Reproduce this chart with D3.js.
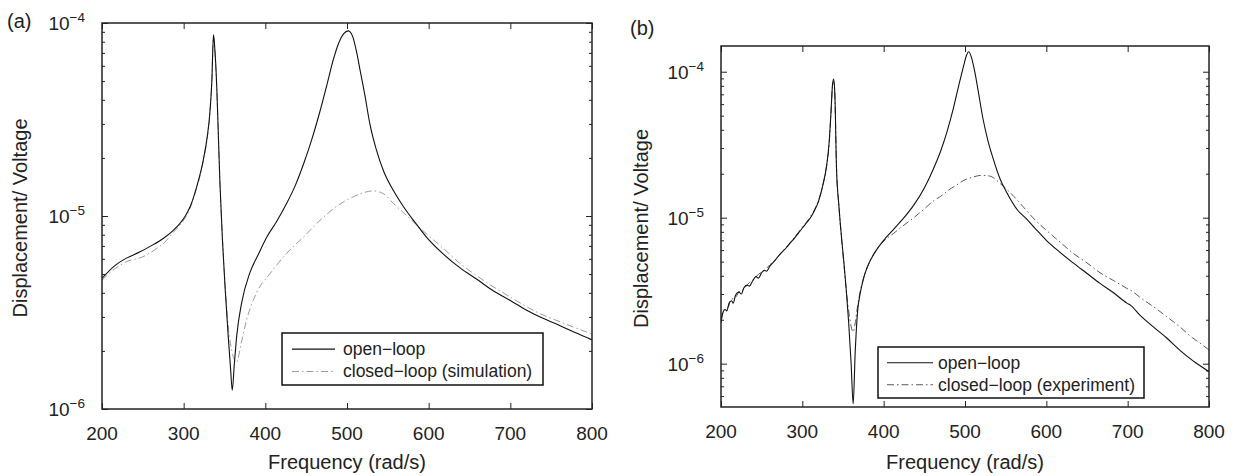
<!DOCTYPE html>
<html>
<head>
<meta charset="utf-8">
<script src="https://cdn.jsdelivr.net/npm/d3@7"></script>
<style>
  body { margin: 0; background: #fff; }
  svg { font-family: "Liberation Sans", Arial, Helvetica, sans-serif; }
</style>
</head>
<body>
<svg id="chart" width="1237" height="476"></svg>
<script>
// Panel (a): simulation
const freqOpenA = [200, 215, 230, 246, 260, 275, 287, 295, 302, 308, 316, 324, 329, 332, 334.5, 336.5, 338, 340.5, 342.5, 344.5, 347.5, 350.5, 354.5, 357.5, 359.5, 362, 365, 371, 381, 392, 402, 414, 426, 437, 447, 457, 467, 476, 483, 490, 496, 501.5, 507, 512, 516, 522, 528, 536, 545, 557, 569, 583, 597, 617, 638, 659, 679, 700, 720, 740, 761, 780, 800]
const magOpenA = [4.75e-6, 5.5e-6, 6.05e-6, 6.5e-6, 7.0e-6, 7.65e-6, 8.4e-6, 9.1e-6, 1.0e-5, 1.12e-5, 1.42e-5, 1.95e-5, 2.6e-5, 3.4e-5, 5.0e-5, 8.7e-5, 7.5e-5, 4.7e-5, 2.6e-5, 1.45e-5, 7.5e-6, 4.4e-6, 2.4e-6, 1.6e-6, 1.25e-6, 1.7e-6, 2.4e-6, 3.55e-6, 5.07e-6, 6.4e-6, 7.8e-6, 9.4e-6, 1.16e-5, 1.45e-5, 1.87e-5, 2.5e-5, 3.5e-5, 4.9e-5, 6.4e-5, 7.9e-5, 8.8e-5, 9.1e-5, 8.5e-5, 7.0e-5, 5.7e-5, 4.2e-5, 3.0e-5, 2.2e-5, 1.7e-5, 1.35e-5, 1.12e-5, 9.3e-6, 7.8e-6, 6.4e-6, 5.4e-6, 4.7e-6, 4.1e-6, 3.65e-6, 3.25e-6, 2.95e-6, 2.7e-6, 2.48e-6, 2.28e-6]
const freqClosedA = [200, 215, 230, 250, 265, 278, 287, 295, 302, 308, 316, 324, 329, 332, 334.5, 336.5, 338, 340.5, 342.5, 344.5, 347.5, 350.5, 354.5, 358, 361, 365, 370, 377, 389, 406, 426, 447, 467, 487, 508, 520, 532, 545, 557, 577, 597, 618, 638, 659, 679, 700, 720, 740, 761, 780, 800]
const magClosedA = [4.65e-6, 5.3e-6, 5.8e-6, 6.15e-6, 6.7e-6, 7.4e-6, 8.2e-6, 8.9e-6, 9.8e-6, 1.1e-5, 1.4e-5, 1.92e-5, 2.55e-5, 3.3e-5, 4.9e-5, 8.5e-5, 7.3e-5, 4.6e-5, 2.6e-5, 1.45e-5, 7.7e-6, 4.6e-6, 2.7e-6, 2.1e-6, 1.85e-6, 1.75e-6, 2.15e-6, 2.89e-6, 3.98e-6, 5.04e-6, 6.4e-6, 7.8e-6, 9.5e-6, 1.12e-5, 1.26e-5, 1.32e-5, 1.35e-5, 1.3e-5, 1.16e-5, 9.7e-6, 8.1e-6, 6.8e-6, 5.69e-6, 4.9e-6, 4.3e-6, 3.8e-6, 3.39e-6, 3.07e-6, 2.83e-6, 2.63e-6, 2.45e-6]

// Panel (b): experiment
const freqOpenB = [200, 202, 205, 207, 210, 213, 215, 218, 222, 225, 228, 232, 235, 239, 243, 246, 250, 253, 256, 260, 265, 270, 275, 280, 285, 290, 295, 300, 305, 310, 315, 320, 325, 330, 333, 335, 337, 338.5, 340, 342, 345, 348, 351, 354, 357, 360, 362.5, 365, 368, 371, 375, 380, 391, 400, 412, 425, 437, 450, 461, 470, 478, 486, 492, 498, 502, 504.5, 508, 512, 516, 522, 528, 535, 543, 551, 565, 575, 585, 600, 615, 633, 650, 666, 683, 699, 704, 715, 732, 748, 764, 780, 790, 800]
const magOpenB = [1.9e-6, 2.2e-6, 2.35e-6, 2.3e-6, 2.6e-6, 2.7e-6, 2.6e-6, 2.95e-6, 3.1e-6, 3.0e-6, 3.3e-6, 3.45e-6, 3.4e-6, 3.7e-6, 3.95e-6, 3.85e-6, 4.2e-6, 4.35e-6, 4.3e-6, 4.65e-6, 5.0e-6, 5.4e-6, 5.8e-6, 6.2e-6, 6.7e-6, 7.2e-6, 7.8e-6, 8.5e-6, 9.2e-6, 1.0e-5, 1.12e-5, 1.3e-5, 1.65e-5, 2.3e-5, 3.3e-5, 5.0e-5, 8.0e-5, 8.9e-5, 7.0e-5, 2.2e-5, 1.2e-5, 7.5e-6, 5.0e-6, 3.2e-6, 1.9e-6, 1.0e-6, 5.3e-7, 1.2e-6, 2.3e-6, 3.0e-6, 3.8e-6, 4.6e-6, 6.0e-6, 7.0e-6, 8.3e-6, 1.0e-5, 1.22e-5, 1.6e-5, 2.15e-5, 2.85e-5, 3.9e-5, 5.7e-5, 7.9e-5, 1.08e-4, 1.3e-4, 1.37e-4, 1.25e-4, 1.0e-4, 7.5e-5, 4.8e-5, 3.4e-5, 2.5e-5, 1.85e-5, 1.5e-5, 1.12e-5, 9.9e-6, 8.6e-6, 7.0e-6, 5.9e-6, 4.9e-6, 4.15e-6, 3.55e-6, 3.05e-6, 2.6e-6, 2.5e-6, 2.15e-6, 1.78e-6, 1.5e-6, 1.24e-6, 1.05e-6, 9.6e-7, 8.8e-7]
const freqClosedB = [200, 203, 206, 209, 212, 216, 219, 223, 227, 231, 235, 240, 244, 249, 254, 260, 266, 272, 280, 290, 300, 310, 320, 325, 330, 333, 335, 337, 338.5, 340, 342, 345, 348, 351, 354, 357, 360, 362.5, 365, 368, 371, 375, 380, 391, 400, 412, 425, 437, 450, 461, 470, 480, 490, 500, 510, 520, 528, 535, 543, 551, 560, 572, 585, 600, 617, 633, 650, 666, 683, 699, 705, 715, 732, 748, 764, 780, 790, 800]
const magClosedB = [2.0e-6, 2.3e-6, 2.4e-6, 2.45e-6, 2.75e-6, 2.8e-6, 2.9e-6, 3.15e-6, 3.2e-6, 3.4e-6, 3.6e-6, 3.75e-6, 4.0e-6, 4.2e-6, 4.4e-6, 4.75e-6, 5.1e-6, 5.6e-6, 6.25e-6, 7.3e-6, 8.6e-6, 1.02e-5, 1.32e-5, 1.65e-5, 2.3e-5, 3.2e-5, 4.9e-5, 7.8e-5, 8.6e-5, 6.8e-5, 2.2e-5, 1.2e-5, 7.4e-6, 4.9e-6, 3.2e-6, 2.3e-6, 1.8e-6, 1.65e-6, 1.9e-6, 2.5e-6, 3.1e-6, 3.8e-6, 4.6e-6, 6.0e-6, 6.9e-6, 7.8e-6, 8.9e-6, 1.0e-5, 1.15e-5, 1.3e-5, 1.4e-5, 1.55e-5, 1.68e-5, 1.82e-5, 1.9e-5, 1.95e-5, 1.94e-5, 1.88e-5, 1.72e-5, 1.57e-5, 1.4e-5, 1.18e-5, 9.8e-6, 8.2e-6, 6.8e-6, 5.7e-6, 4.9e-6, 4.2e-6, 3.7e-6, 3.28e-6, 3.15e-6, 2.85e-6, 2.45e-6, 2.1e-6, 1.79e-6, 1.5e-6, 1.37e-6, 1.24e-6]

const xTicks = [200, 300, 400, 500, 600, 700, 800]
const decadeExps = [-6, -5, -4]
const legendA = ['open\u2212loop', 'closed\u2212loop (simulation)']
const legendB = ['open\u2212loop', 'closed\u2212loop (experiment)']

const svg = d3.select('#chart')

// panel boxes (pixels) and log-axis domains
const panels = [
  {id: 'a', label: '(a)', left: 102, top: 23, right: 592, bottom: 409, yDomain: [1e-6, 1e-4],
   open: [freqOpenA, magOpenA], closed: [freqClosedA, magClosedA], closedColor: '#9a9a9a',
   legend: legendA, legendBox: {x: 282, y: 333, w: 261, h: 52, lineX0: 10, lineX1: 53, textX: 61},
   tag: {x: 7, y: 28}, ylabelX: 27},
  {id: 'b', label: '(b)', left: 721, top: 46, right: 1209, bottom: 407, yDomain: [5.05e-7, 1.5e-4],
   open: [freqOpenB, magOpenB], closed: [freqClosedB, magClosedB], closedColor: '#5a5a5a',
   legend: legendB, legendBox: {x: 878, y: 347, w: 266, h: 51, lineX0: 9, lineX1: 55, textX: 60},
   tag: {x: 630, y: 35}, ylabelX: 648}
]

panels.forEach(drawPanel)

function drawPanel(p) {
  const w = p.right - p.left
  const h = p.bottom - p.top
  const x = d3.scaleLinear().domain([200, 800]).range([0, w])
  const y = d3.scaleLog().domain(p.yDomain).range([h, 0])

  const g = svg.append('g').attr('transform', `translate(${p.left},${p.top})`)

  g.append('clipPath').attr('id', 'clip-' + p.id)
    .append('rect').attr('width', w).attr('height', h)

  // minor + major log ticks
  const majors = decadeExps.map(e => Math.pow(10, e)).filter(v => v >= p.yDomain[0] && v <= p.yDomain[1] * 1.0001)
  const minors = []
  d3.range(-7, -3).forEach(e => {
    for (let k = 2; k <= 9; k++) {
      const v = k * Math.pow(10, e)
      if (v > p.yDomain[0] && v < p.yDomain[1]) minors.push(v)
    }
  })

  const tickStyle = sel => {
    sel.select('.domain').remove()
    sel.selectAll('line').attr('stroke', '#222').attr('stroke-width', 1)
    sel.selectAll('text').remove()
  }

  g.append('g').call(d3.axisLeft(y).tickValues(minors).tickSize(-3)).call(tickStyle)
  g.append('g').attr('transform', `translate(${w},0)`)
    .call(d3.axisRight(y).tickValues(minors).tickSize(-3)).call(tickStyle)
  g.append('g').call(d3.axisLeft(y).tickValues(majors).tickSize(-6)).call(tickStyle)
  g.append('g').attr('transform', `translate(${w},0)`)
    .call(d3.axisRight(y).tickValues(majors).tickSize(-6)).call(tickStyle)
  g.append('g').attr('transform', `translate(0,${h})`)
    .call(d3.axisBottom(x).tickValues(xTicks).tickSize(-6)).call(tickStyle)
  g.append('g')
    .call(d3.axisTop(x).tickValues(xTicks).tickSize(-6)).call(tickStyle)

  // x tick labels
  g.append('g').selectAll('text').data(xTicks).join('text')
    .attr('x', d => x(d)).attr('y', h + 31)
    .attr('text-anchor', 'middle').attr('font-size', 19).attr('fill', '#222')
    .text(d => d)

  // y tick labels 10^n
  const yl = g.append('g').selectAll('text').data(majors).join('text')
    .attr('x', -17).attr('y', d => y(d) + 7)
    .attr('text-anchor', 'end').attr('font-size', 19).attr('fill', '#222')
  yl.append('tspan').text('10')
  yl.append('tspan').attr('font-size', 13.5).attr('dy', -8)
    .text(d => '\u2212' + Math.round(-Math.log10(d)))

  // curves
  const line = d3.line()
    .x(d => x(d[0]))
    .y(d => y(d[1]))
    .curve(d3.curveMonotoneX)

  const toPts = s => s[0].map((f, i) => [f, s[1][i]])
  const plot = g.append('g').attr('clip-path', `url(#clip-${p.id})`)

  plot.append('path').datum(toPts(p.closed))
    .attr('fill', 'none').attr('stroke', p.closedColor).attr('stroke-width', 1)
    .attr('stroke-dasharray', '7,3,1.5,3')
    .attr('d', line)
  plot.append('path').datum(toPts(p.open))
    .attr('fill', 'none').attr('stroke', '#111').attr('stroke-width', 1.1)
    .attr('d', line)

  // frame
  g.append('rect').attr('width', w).attr('height', h)
    .attr('fill', 'none').attr('stroke', '#222').attr('stroke-width', 1.5)

  // legend
  const lb = p.legendBox
  const lg = svg.append('g').attr('transform', `translate(${lb.x},${lb.y})`)
  lg.append('rect').attr('width', lb.w).attr('height', lb.h)
    .attr('fill', '#fff').attr('stroke', '#111').attr('stroke-width', 1.5)
  const rows = [lb.h * 0.31, lb.h * 0.74]
  lg.append('line').attr('x1', lb.lineX0).attr('x2', lb.lineX1)
    .attr('y1', rows[0]).attr('y2', rows[0]).attr('stroke', '#111').attr('stroke-width', 1.1)
  lg.append('line').attr('x1', lb.lineX0).attr('x2', lb.lineX1)
    .attr('y1', rows[1]).attr('y2', rows[1]).attr('stroke', p.closedColor)
    .attr('stroke-width', 1).attr('stroke-dasharray', '7,3,1.5,3')
  lg.selectAll('text').data(p.legend).join('text')
    .attr('x', lb.textX).attr('y', (d, i) => rows[i] + 6)
    .attr('font-size', 17.5).attr('fill', '#222')
    .text(d => d)

  // axis titles
  svg.append('text')
    .attr('x', p.left + w / 2).attr('y', 469)
    .attr('text-anchor', 'middle').attr('font-size', 20).attr('fill', '#222')
    .text('Frequency (rad/s)')
  svg.append('text')
    .attr('transform', `translate(${p.ylabelX},${p.top + h / 2 + 2}) rotate(-90)`)
    .attr('text-anchor', 'middle').attr('font-size', 20).attr('fill', '#222')
    .text('Displacement/ Voltage')

  // panel tag
  svg.append('text').attr('x', p.tag.x).attr('y', p.tag.y)
    .attr('font-size', 20).attr('fill', '#222').text(p.label)
}
</script>
</body>
</html>
